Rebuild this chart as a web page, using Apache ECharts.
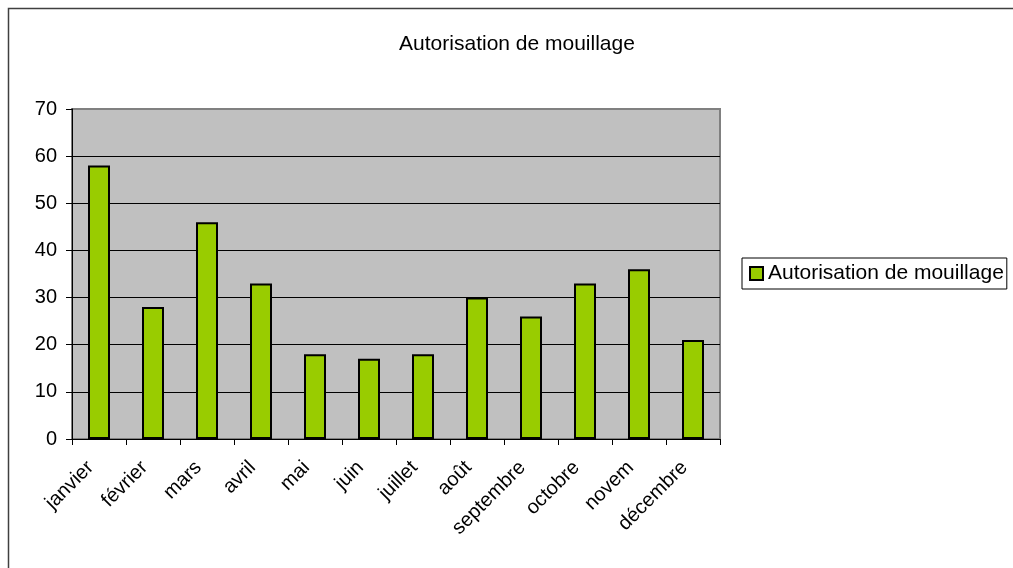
<!DOCTYPE html>
<html>
<head>
<meta charset="utf-8">
<script src="https://cdn.jsdelivr.net/npm/echarts@6/dist/echarts.min.js"></script>
<style>
  html, body { margin: 0; padding: 0; background: #fff; }
  #main { width: 1013px; height: 568px; }
</style>
</head>
<body>
<div id="main"></div>
<script>
    // données
    const mois = ['janvier', 'février', 'mars', 'avril', 'mai', 'juin', 'juillet', 'août', 'septembre', 'octobre', 'novembre', 'décembre'];
    const autorisations = [58, 28, 46, 33, 18, 17, 18, 30, 26, 33, 36, 21];
    const nomSerie = 'Autorisation de mouillage';

    const chart = echarts.init(document.getElementById('main'));
    chart.setOption({
        backgroundColor: '#fff',
        animation: false,
        textStyle: { fontFamily: 'Liberation Sans, Arial, sans-serif' },
        graphic: [{
            type: 'rect',
            shape: { x: 8.5, y: 8.5, width: 1010, height: 570 },
            style: { fill: 'none', stroke: '#404040', lineWidth: 1.5 },
            z: 100
        }],
        title: {
            text: nomSerie,
            left: 512,
            textAlign: 'center',
            top: 29,
            textStyle: { fontSize: 21, fontWeight: 'normal', color: '#000' }
        },
        legend: {
            left: 742,
            top: 258,
            width: 264,
            padding: [5, 3, 5, 7],
            borderColor: '#000',
            borderWidth: 1,
            itemWidth: 13,
            itemHeight: 13,
            itemGap: 4,
            icon: 'rect',
            textStyle: { fontSize: 21, color: '#000' },
            data: [nomSerie]
        },
        grid: {
            left: 72,
            right: 293,
            top: 109,
            bottom: 129,
            show: true,
            backgroundColor: '#C0C0C0',
            borderColor: '#808080',
            borderWidth: 2
        },
        xAxis: {
            type: 'category',
            data: mois,
            axisLine: { lineStyle: { color: '#000', width: 1 } },
            axisTick: { show: true, alignWithLabel: false, length: 6, lineStyle: { color: '#000' } },
            axisLabel: {
                interval: 0,
                rotate: 45,
                margin: 17,
                padding: [0, 12, 0, 0],
                fontSize: 20,
                color: '#000',
                formatter: function (v) { return v === 'novembre' ? 'novem' : v; }
            }
        },
        yAxis: {
            type: 'value',
            min: 0,
            max: 70,
            interval: 10,
            axisLine: { show: true, lineStyle: { color: '#000' } },
            axisTick: { show: true, length: 6, lineStyle: { color: '#000' } },
            axisLabel: { fontSize: 20, color: '#000', margin: 15 },
            splitLine: {
                show: true,
                lineStyle: { color: ['#000', '#000', '#000', '#000', '#000', '#000', '#000', 'rgba(0,0,0,0)'], width: 1 }
            }
        },
        series: [{
            name: nomSerie,
            type: 'bar',
            barWidth: 22,
            itemStyle: { color: '#99CC00', borderColor: '#000', borderWidth: 2 },
            data: autorisations
        }]
    });
</script>
</body>
</html>
